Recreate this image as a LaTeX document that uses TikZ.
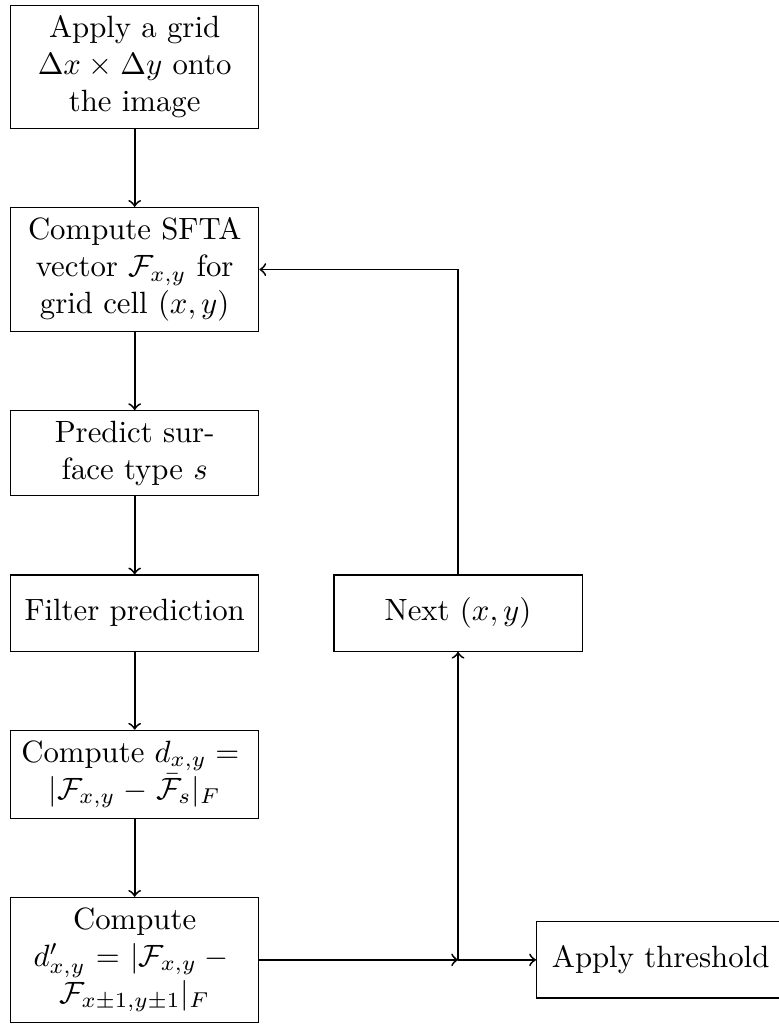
\documentclass[tikz,border=0pt]{standalone}
\usepackage{amsmath,amssymb}
\usetikzlibrary{positioning}
\tikzset{
  block/.style={draw, rectangle, text width=2.6cm, align=center, minimum height=0.87cm},
  line/.style={->, semithick}
}

\begin{document}
\begin{tikzpicture}[node distance=0.89cm]
\useasboundingbox (-0.114,0.057) rectangle (8.78,-11.65);
% main column
\node[block, anchor=north west] (grid) at (0,0) {Apply a grid\\ $\Delta x \times \Delta y$ onto\\ the image};
\node[block, below=of grid] (sfta) {Compute SFTA\\ vector $\mathcal{F}_{x,y}$ for\\ grid cell $(x,y)$};
\node[block, below=of sfta] (predict) {Predict sur-\\ face type $s$};
\node[block, below=of predict] (filter) {Filter prediction};
\node[block, below=of filter] (dist) {Compute $d_{x,y} ={}$\\ $|\mathcal{F}_{x,y} - \bar{\mathcal{F}}_s|_F$};
\node[block, below=of dist] (ndist) {Compute\\ $d'_{x,y} = |\mathcal{F}_{x,y} -{}$\\ $\mathcal{F}_{x\pm1,y\pm1}|_F$};
% loop back and output
\node[block, right=0.845cm of filter] (next) {Next $(x,y)$};
\coordinate (join) at (next |- ndist.east);
\node[block, right=of join] (thresh) {Apply threshold};

\draw[line] (grid) -- (sfta);
\draw[line] (sfta) -- (predict);
\draw[line] (predict) -- (filter);
\draw[line] (filter) -- (dist);
\draw[line] (dist) -- (ndist);
\draw[line] (ndist) -- (join);
\draw[line] (join) -- (thresh);
\draw[line] (join) -- (next);
\draw[line] (next) |- (sfta);
\end{tikzpicture}
\end{document}
